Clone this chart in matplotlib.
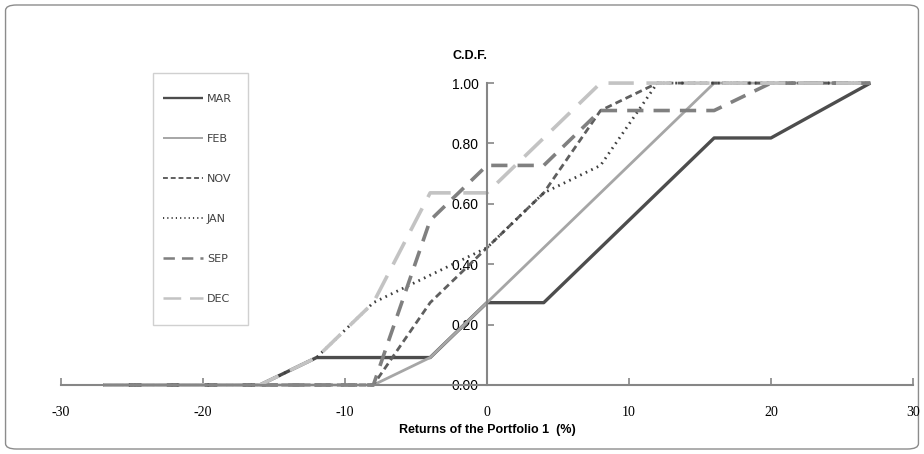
import matplotlib.pyplot as plt
import numpy as np
from matplotlib.patches import FancyBboxPatch, Rectangle

# return bins (%) and cumulative counts out of 11 observations
returns = [-27, -16, -12, -8, -4, 0, 4, 8, 12, 16, 20, 27]
n_obs = 11
counts = {
    'MAR': [0, 0, 1, 1, 1, 3, 3, 5, 7, 9, 9, 11],
    'FEB': [0, 0, 0, 0, 1, 3, 5, 7, 9, 11, 11, 11],
    'NOV': [0, 0, 0, 0, 3, 5, 7, 10, 11, 11, 11, 11],
    'JAN': [0, 0, 1, 3, 4, 5, 7, 8, 11, 11, 11, 11],
    'SEP': [0, 0, 0, 0, 6, 8, 8, 10, 10, 10, 11, 11],
    'DEC': [0, 0, 1, 3, 7, 7, 9, 11, 11, 11, 11, 11],
}
styles = {
    'MAR': dict(color='#4d4d4d', lw=2.4, ls='-'),
    'FEB': dict(color='#a6a6a6', lw=2.0, ls='-'),
    'NOV': dict(color='#5f5f5f', lw=2.0, ls=(0, (2.5, 1.5))),
    'JAN': dict(color='#3f3f3f', lw=2.0, ls=(0, (0.6, 1.6))),
    'SEP': dict(color='#808080', lw=2.6, ls=(0, (4.5, 2.8))),
    'DEC': dict(color='#c3c3c3', lw=2.6, ls=(0, (7, 3.5))),
}

x = np.array(returns)
fig = plt.figure(figsize=(9.24, 4.54), dpi=100)
fig.patches.append(FancyBboxPatch((0.006, 0.011), 0.988, 0.978,
                                  boxstyle='round,pad=0,rounding_size=0.012',
                                  transform=fig.transFigure, fc='none',
                                  ec='#8c8c8c', lw=1.0, zorder=-10))
# legend frame
fig.patches.append(Rectangle((153 / 924, 1 - 325 / 454), 95 / 924, 252 / 454,
                             transform=fig.transFigure, fc='white',
                             ec='#d0d0d0', lw=1.0, zorder=-5))
ax = fig.add_axes([0.066, 0.152, 0.922, 0.665])
ax.patch.set_alpha(0)

for name in ['MAR', 'FEB', 'NOV', 'JAN', 'SEP', 'DEC']:
    y = np.array(counts[name]) / n_obs
    ax.plot(x, y, label=name, clip_on=False, dash_capstyle='butt',
            solid_capstyle='butt', **styles[name])

ax.set_xlim(-30, 30)
ax.set_ylim(0, 1)
for s in ['top', 'right']:
    ax.spines[s].set_visible(False)
ax.spines['left'].set_position(('data', 0))
ax.spines['left'].set_color('#868686')
ax.spines['bottom'].set_color('#868686')
ax.spines['left'].set_linewidth(1.5)
ax.spines['bottom'].set_linewidth(1.5)

ax.set_xticks([-30, -20, -10, 0, 10, 20, 30])
ax.set_yticks(np.arange(0, 1.01, 0.2))
ax.set_yticklabels(['%.2f' % v for v in np.arange(0, 1.01, 0.2)],
                   fontfamily='Liberation Sans', fontsize=10)
ax.set_xticklabels(['-30', '-20', '-10', '0', '10', '20', '30'],
                   fontfamily='Liberation Serif', fontsize=10)
ax.tick_params(axis='both', direction='in', color='#868686', length=5,
               width=1.2)
ax.tick_params(axis='x', pad=15)
ax.tick_params(axis='y', pad=6)

ax.set_xlabel('Returns of the Portfolio 1  (%)', fontweight='bold',
              fontfamily='Liberation Sans', fontsize=9, labelpad=4)
ax.text(0, 1.09, 'C.D.F.', fontweight='bold', fontfamily='Liberation Sans',
        fontsize=9, ha='right', va='center', transform=ax.get_xaxis_transform())

leg = ax.legend(loc='upper left', bbox_to_anchor=(163 / 924, 1 - 94 / 454),
                bbox_transform=fig.transFigure, frameon=False,
                fontsize=8, labelspacing=2.7, handlelength=3.6,
                handletextpad=0.35, borderpad=0, borderaxespad=0)
for t in leg.get_texts():
    t.set_color('#404040')
for h in leg.get_lines():
    h.set_linewidth(h.get_linewidth() * 0.7)

fig.savefig('out.png', dpi=100)
